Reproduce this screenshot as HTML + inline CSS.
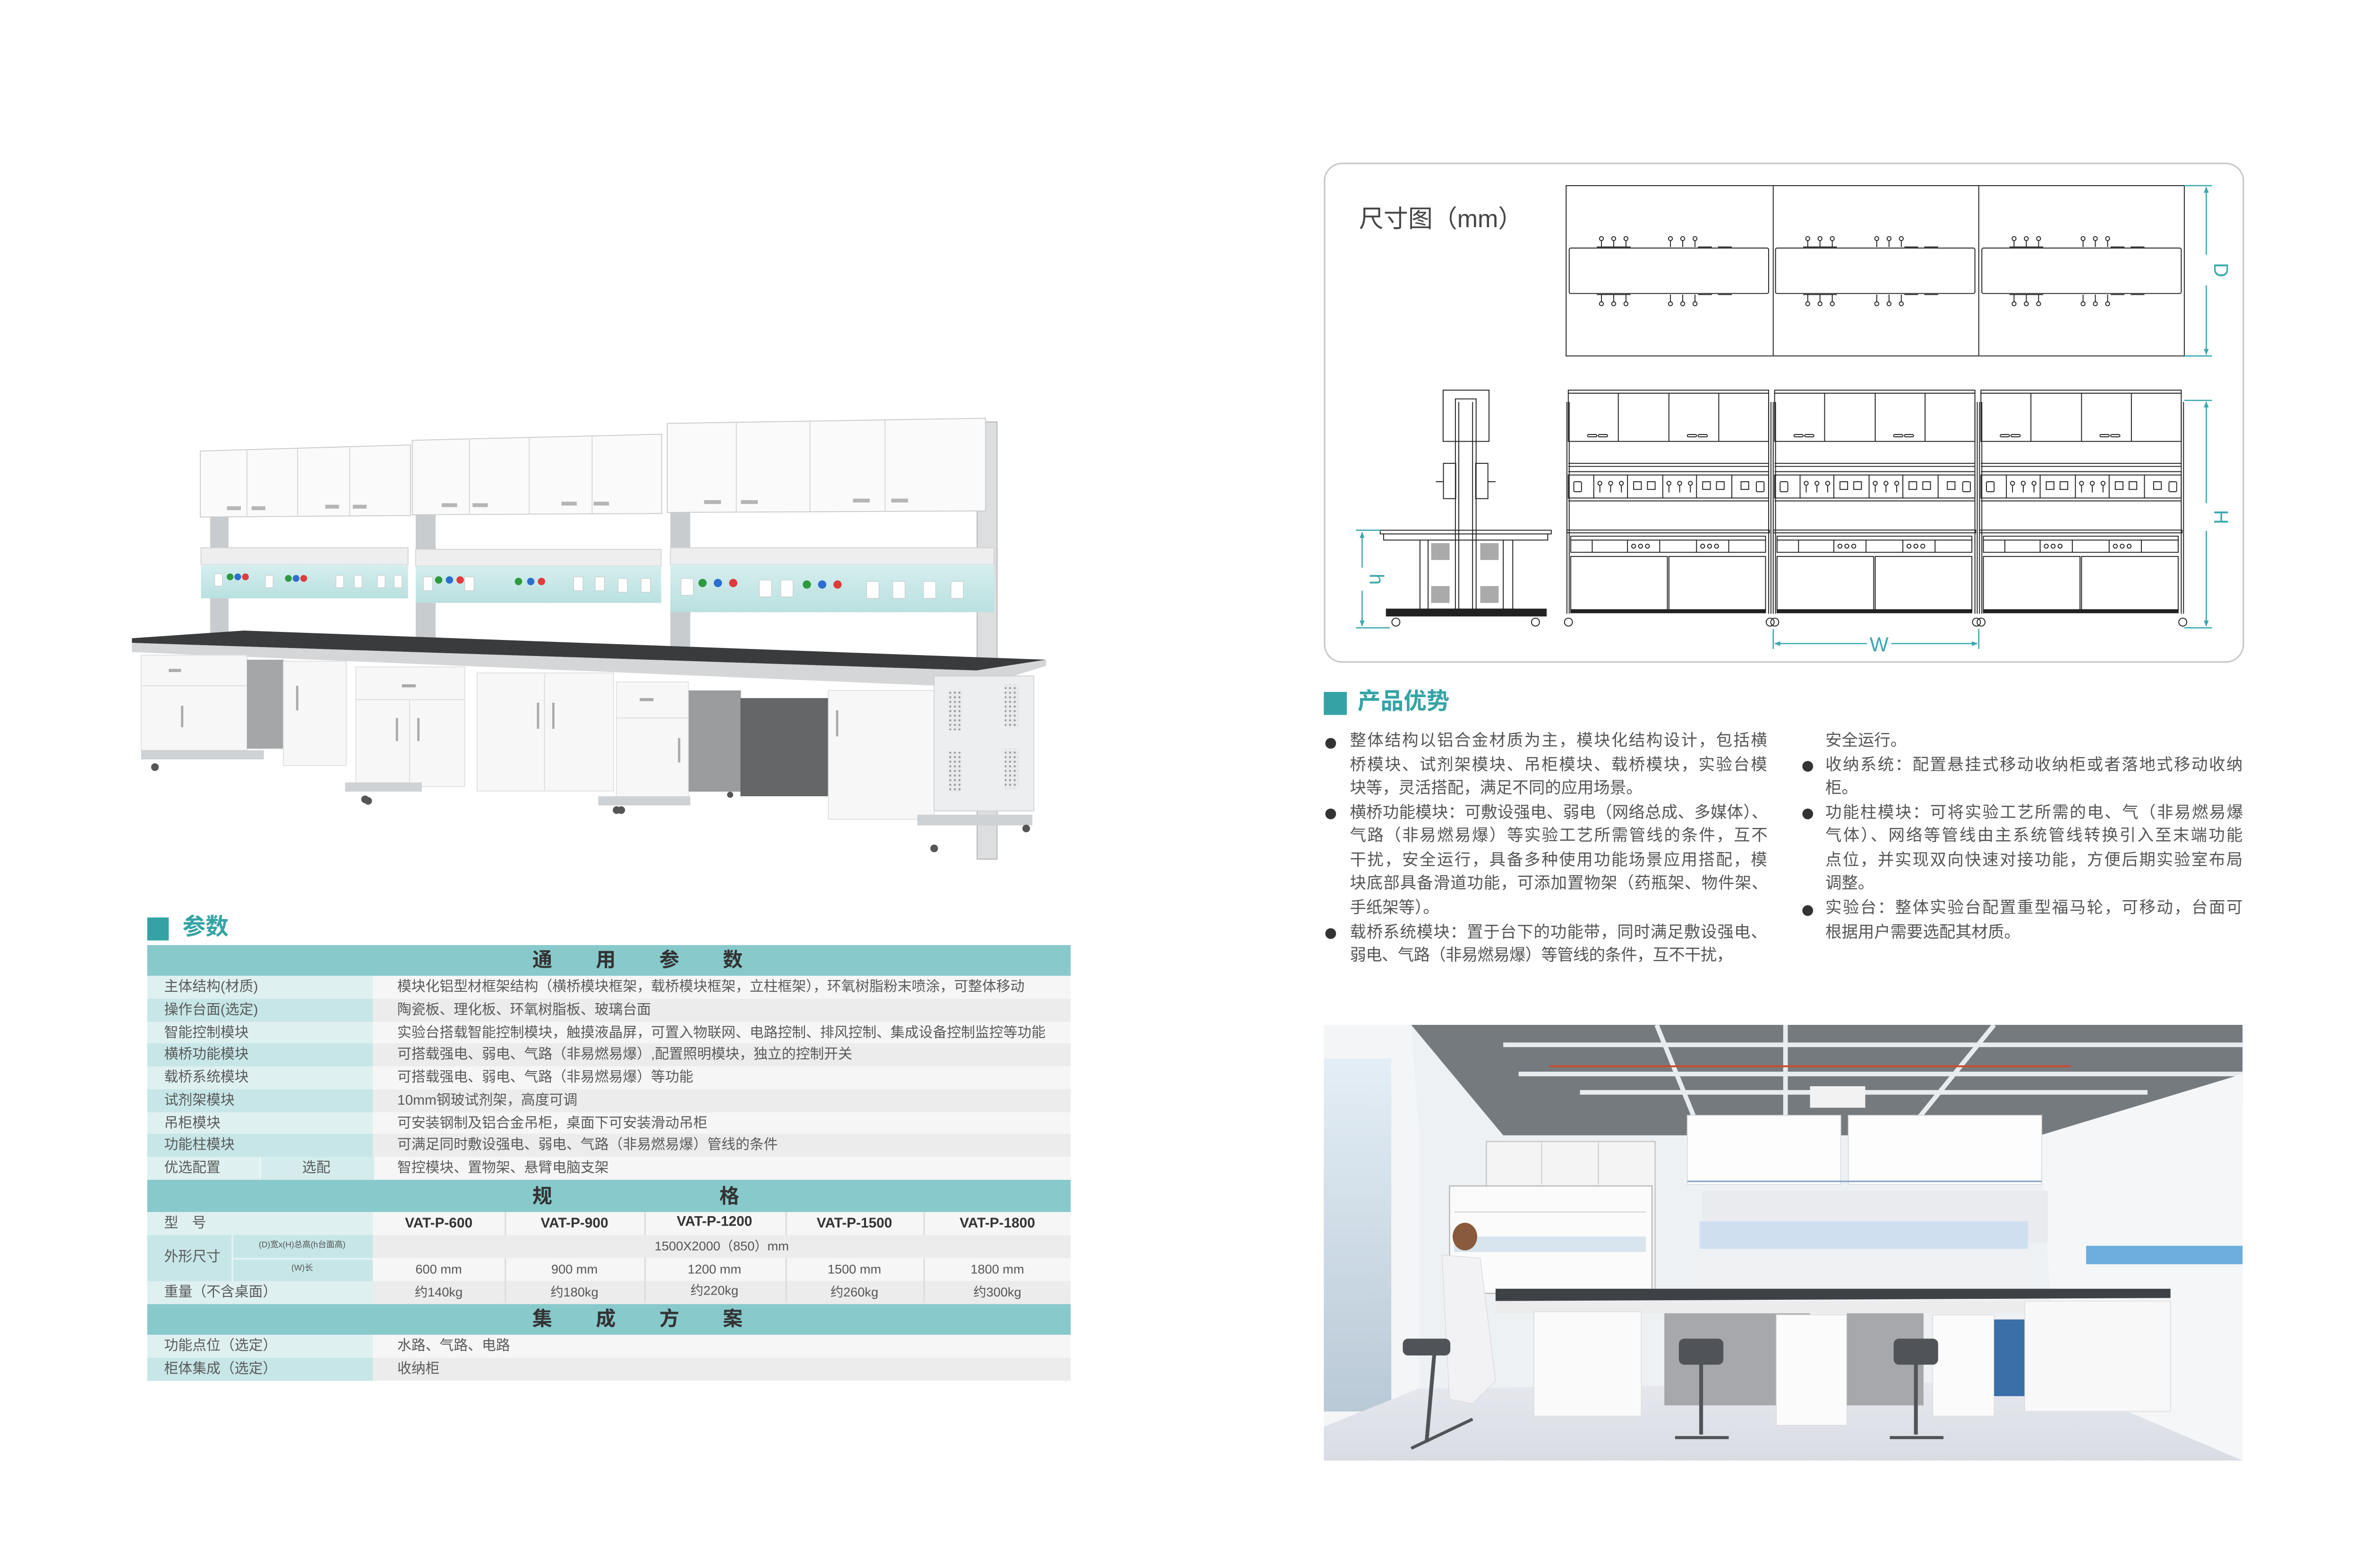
<!DOCTYPE html>
<html><head><meta charset="utf-8">
<style>
html,body{margin:0;padding:0;background:#fff;}
body{width:5033px;height:3320px;overflow:hidden;position:relative;}
#p{position:absolute;left:0;top:0;width:1550px;height:1022px;transform:scale(3.2471,3.2485);transform-origin:0 0;font-family:"Liberation Sans","Noto Sans CJK SC",sans-serif;}
.a{position:absolute;}
.t{position:absolute;font-size:9.2px;color:#5a5a5a;white-space:nowrap;line-height:14.75px;}
.hd{position:absolute;left:96px;width:602px;background:#88c9cc;}
.hdt{position:absolute;font-size:13px;font-weight:bold;color:#333;line-height:20px;}
.ln{position:absolute;font-size:10.6px;color:#555;white-space:nowrap;line-height:15.5px;width:272px;text-align:justify;text-align-last:justify;}
.ln.l{text-align-last:left;}
.bul{position:absolute;width:7px;height:7px;border-radius:50%;background:#333;}
.md{position:absolute;font-size:9.2px;font-weight:bold;color:#333;line-height:14.5px;text-align:center;}
.mv{position:absolute;font-size:8.4px;color:#555;line-height:14.75px;text-align:center;}
</style></head><body>
<div id="p">

<!-- ===== Lab bench render ===== -->
<svg class="a" style="left:0;top:0" width="700" height="580" viewBox="0 0 700 580">
 <defs>
  <linearGradient id="pan" x1="0" y1="0" x2="0" y2="1"><stop offset="0" stop-color="#d6eeee"/><stop offset="1" stop-color="#b9e0e0"/></linearGradient>
  <pattern id="perf" width="3" height="3" patternUnits="userSpaceOnUse"><rect width="3" height="3" fill="#e8eaec"/><circle cx="1.5" cy="1.5" r="0.7" fill="#9a9c9e"/></pattern>
 </defs>
 <!-- posts -->
 <rect x="137" y="335" width="12" height="83" fill="#c9cccf"/>
 <rect x="271" y="334" width="13" height="85" fill="#c9cccf"/>
 <rect x="437" y="333" width="13" height="93" fill="#c9cccf"/>
 <rect x="637" y="275" width="13" height="285" fill="#dcdee0" stroke="#aaa" stroke-width="0.5"/>
 <!-- upper cabinets -->
 <polygon points="130.6,294 267.6,290 267.6,336 130.6,337" fill="#fafafa" stroke="#ccc" stroke-width="0.6"/>
 <polygon points="268.8,287 431.4,283 431.4,334.7 268.8,335.5" fill="#fafafa" stroke="#ccc" stroke-width="0.6"/>
 <polygon points="435,276 642.5,272.6 642.5,333 435,334" fill="#fafafa" stroke="#ccc" stroke-width="0.6"/>
 <g stroke="#d6d6d6" stroke-width="0.6">
  <line x1="161" y1="293" x2="161" y2="336"/><line x1="194" y1="292" x2="194" y2="336"/><line x1="228" y1="291" x2="228" y2="336"/>
  <line x1="306" y1="286" x2="306" y2="335"/><line x1="345" y1="285" x2="345" y2="335"/><line x1="386" y1="284" x2="386" y2="335"/>
  <line x1="480" y1="275" x2="480" y2="334"/><line x1="528" y1="274" x2="528" y2="334"/><line x1="577" y1="273" x2="577" y2="333"/>
 </g>
 <g fill="#b5b5b5">
  <rect x="148" y="330" width="9" height="2.5"/><rect x="164" y="330" width="9" height="2.5"/><rect x="212" y="329" width="9" height="2.5"/><rect x="230" y="329" width="9" height="2.5"/>
  <rect x="288" y="328" width="10" height="2.5"/><rect x="308" y="328" width="10" height="2.5"/><rect x="366" y="327" width="10" height="2.5"/><rect x="387" y="327" width="10" height="2.5"/>
  <rect x="459" y="326" width="11" height="2.5"/><rect x="483" y="326" width="11" height="2.5"/><rect x="556" y="325" width="11" height="2.5"/><rect x="581" y="325" width="11" height="2.5"/>
 </g>
 <!-- rails + service panels -->
 <rect x="131" y="357" width="135" height="11" fill="#eeeeee" stroke="#cfcfcf" stroke-width="0.5"/>
 <rect x="271" y="358" width="160" height="11" fill="#eeeeee" stroke="#cfcfcf" stroke-width="0.5"/>
 <rect x="437" y="357" width="211" height="11" fill="#eeeeee" stroke="#cfcfcf" stroke-width="0.5"/>
 <rect x="131" y="368" width="135" height="22" fill="url(#pan)"/>
 <rect x="271" y="369" width="160" height="24" fill="url(#pan)"/>
 <rect x="437" y="368" width="211" height="31" fill="url(#pan)"/>
 <g fill="#fff" stroke="#ccc" stroke-width="0.4">
  <rect x="140" y="374" width="5" height="8"/><rect x="173" y="375" width="5" height="8"/><rect x="219" y="375" width="5" height="8"/><rect x="231" y="375" width="5" height="8"/><rect x="246" y="375" width="5" height="8"/><rect x="257" y="375" width="5" height="8"/>
  <rect x="276" y="376" width="6" height="9"/><rect x="303" y="376" width="6" height="9"/><rect x="374" y="376" width="6" height="9"/><rect x="388" y="376" width="6" height="9"/><rect x="403" y="377" width="6" height="9"/><rect x="418" y="377" width="6" height="9"/>
  <rect x="444" y="377" width="8" height="11"/><rect x="495" y="378" width="8" height="11"/><rect x="509" y="378" width="8" height="11"/><rect x="565" y="379" width="8" height="11"/><rect x="582" y="379" width="8" height="11"/><rect x="602" y="379" width="8" height="11"/><rect x="620" y="379" width="8" height="11"/>
 </g>
 <g>
  <circle cx="150" cy="376" r="2.2" fill="#2e9a3e"/><circle cx="155" cy="376" r="2.2" fill="#2c6fd0"/><circle cx="160" cy="376" r="2.2" fill="#e03b3b"/>
  <circle cx="188" cy="377" r="2.2" fill="#2e9a3e"/><circle cx="193" cy="377" r="2.2" fill="#2c6fd0"/><circle cx="198" cy="377" r="2.2" fill="#e03b3b"/>
  <circle cx="286" cy="378" r="2.4" fill="#2e9a3e"/><circle cx="293" cy="378" r="2.4" fill="#2c6fd0"/><circle cx="300" cy="378" r="2.4" fill="#e03b3b"/>
  <circle cx="338" cy="379" r="2.4" fill="#2e9a3e"/><circle cx="346" cy="379" r="2.4" fill="#2c6fd0"/><circle cx="353" cy="379" r="2.4" fill="#e03b3b"/>
  <circle cx="458" cy="380" r="2.7" fill="#2e9a3e"/><circle cx="468" cy="380" r="2.7" fill="#2c6fd0"/><circle cx="478" cy="380" r="2.7" fill="#e03b3b"/>
  <circle cx="526" cy="381" r="2.7" fill="#2e9a3e"/><circle cx="536" cy="381" r="2.7" fill="#2c6fd0"/><circle cx="546" cy="381" r="2.7" fill="#e03b3b"/>
 </g>
 <!-- worktop -->
 <polygon points="86,416 159,411 682,430 636.6,437 86,419" fill="#3a3b3d"/>
 <polygon points="86,419 636.6,437 682,430 682,434 636.6,448 86,425" fill="#d4d6d8"/>
 <!-- lower cabinets -->
 <rect x="92" y="427" width="69" height="62" fill="#f7f7f7" stroke="#ddd" stroke-width="0.5"/>
 <line x1="92" y1="447" x2="161" y2="447" stroke="#ddd" stroke-width="0.6"/>
 <rect x="161" y="430" width="24" height="58" fill="#a4a6a8"/>
 <rect x="184.7" y="431" width="41" height="68" fill="#f7f7f7" stroke="#ddd" stroke-width="0.5"/>
 <rect x="232" y="434.7" width="71" height="78" fill="#f7f7f7" stroke="#ddd" stroke-width="0.5"/>
 <line x1="232" y1="456" x2="303" y2="456" stroke="#ddd" stroke-width="0.6"/>
 <line x1="267" y1="456" x2="267" y2="513" stroke="#ddd" stroke-width="0.6"/>
 <rect x="311" y="438.6" width="89" height="77" fill="#f7f7f7" stroke="#ddd" stroke-width="0.5"/>
 <line x1="355" y1="439" x2="355" y2="515" stroke="#ddd" stroke-width="0.6"/>
 <rect x="401.8" y="444.5" width="47" height="76" fill="#f7f7f7" stroke="#ddd" stroke-width="0.5"/>
 <line x1="402" y1="468" x2="449" y2="468" stroke="#ddd" stroke-width="0.6"/>
 <rect x="449" y="450" width="34" height="66" fill="#9a9c9e"/>
 <rect x="482.7" y="455" width="57.3" height="64" fill="#646668"/>
 <rect x="540" y="450" width="69" height="84" fill="#f7f7f7" stroke="#ddd" stroke-width="0.5"/>
 <rect x="609" y="440.6" width="65" height="88" fill="#eceef0" stroke="#ccc" stroke-width="0.5"/>
 <g fill="#aaa">
  <rect x="110" y="436" width="8" height="2"/><rect x="118" y="460" width="1.5" height="14"/><rect x="193" y="447" width="1.5" height="16"/>
  <rect x="262" y="446" width="9" height="2"/><rect x="258" y="468" width="1.5" height="15"/><rect x="272" y="468" width="1.5" height="15"/>
  <rect x="350" y="458" width="1.5" height="17"/><rect x="360" y="458" width="1.5" height="17"/>
  <rect x="417" y="455" width="9" height="2"/><rect x="442" y="481" width="1.5" height="16"/><rect x="545" y="463" width="1.5" height="17"/>
 </g>
 <g fill="url(#perf)">
  <rect x="618" y="450" width="9" height="26"/><rect x="618" y="490" width="9" height="26"/><rect x="655" y="446" width="9" height="28"/><rect x="655" y="488" width="9" height="26"/>
 </g>
 <!-- base rails & wheels -->
 <g fill="#cfd2d4">
  <rect x="92" y="489" width="80" height="6"/><rect x="225" y="510" width="50" height="6"/><rect x="390" y="519" width="60" height="6"/><rect x="598" y="531" width="75" height="7"/>
 </g>
 <g fill="#555">
  <circle cx="101" cy="500" r="2.5"/><circle cx="238" cy="521" r="2.5"/><circle cx="240" cy="522" r="2.5"/><circle cx="402" cy="528" r="2.5"/><circle cx="405" cy="528" r="2.5"/><circle cx="476" cy="518" r="2"/><circle cx="609" cy="553" r="2.5"/><circle cx="669" cy="540" r="2.5"/>
 </g>
</svg>

<!-- ===== 参数 ===== -->
<div class="a" style="left:96px;top:598px;width:14px;height:15px;background:#35a3a6"></div>
<div class="a" style="left:119px;top:595px;font-size:15px;color:#35a3a6;font-weight:bold;line-height:20px">参数</div>

<div class="hd" style="top:616px;height:20px"></div>
<div class="hdt" style="left:347px;top:616px;letter-spacing:28.4px">通用参数</div>

<div class="a" style="left:96px;top:636px;width:147px;height:133px;background:#dff0f0"></div>
<div class="a" style="left:243px;top:636px;width:455px;height:133px;background:#f6f6f6"></div>
<div class="a" style="left:96px;top:650.75px;width:147px;height:14.75px;background:#c7e6e7"></div><div class="a" style="left:243px;top:650.75px;width:455px;height:14.75px;background:#ececec"></div>
<div class="a" style="left:96px;top:680.25px;width:147px;height:14.75px;background:#c7e6e7"></div><div class="a" style="left:243px;top:680.25px;width:455px;height:14.75px;background:#ececec"></div>
<div class="a" style="left:96px;top:709.75px;width:147px;height:14.75px;background:#c7e6e7"></div><div class="a" style="left:243px;top:709.75px;width:455px;height:14.75px;background:#ececec"></div>
<div class="a" style="left:96px;top:739.25px;width:147px;height:14.75px;background:#c7e6e7"></div><div class="a" style="left:243px;top:739.25px;width:455px;height:14.75px;background:#ececec"></div>
<div class="a" style="left:169px;top:754px;width:74px;height:15px;background:#d4ecec;border-left:1px solid #eef7f7"></div>

<div class="t" style="left:107px;top:636px">主体结构(材质)</div>
<div class="t" style="left:107px;top:650.75px">操作台面(选定)</div>
<div class="t" style="left:107px;top:665.5px">智能控制模块</div>
<div class="t" style="left:107px;top:680.25px">横桥功能模块</div>
<div class="t" style="left:107px;top:695px">载桥系统模块</div>
<div class="t" style="left:107px;top:709.75px">试剂架模块</div>
<div class="t" style="left:107px;top:724.5px">吊柜模块</div>
<div class="t" style="left:107px;top:739.25px">功能柱模块</div>
<div class="t" style="left:107px;top:754px">优选配置</div>
<div class="t" style="left:197px;top:754px">选配</div>

<div class="t" style="left:259px;top:636px">模块化铝型材框架结构（横桥模块框架，载桥模块框架，立柱框架），环氧树脂粉末喷涂，可整体移动</div>
<div class="t" style="left:259px;top:650.75px">陶瓷板、理化板、环氧树脂板、玻璃台面</div>
<div class="t" style="left:259px;top:665.5px">实验台搭载智能控制模块，触摸液晶屏，可置入物联网、电路控制、排风控制、集成设备控制监控等功能</div>
<div class="t" style="left:259px;top:680.25px">可搭载强电、弱电、气路（非易燃易爆）,配置照明模块，独立的控制开关</div>
<div class="t" style="left:259px;top:695px">可搭载强电、弱电、气路（非易燃易爆）等功能</div>
<div class="t" style="left:259px;top:709.75px">10mm钢玻试剂架，高度可调</div>
<div class="t" style="left:259px;top:724.5px">可安装钢制及铝合金吊柜，桌面下可安装滑动吊柜</div>
<div class="t" style="left:259px;top:739.25px">可满足同时敷设强电、弱电、气路（非易燃易爆）管线的条件</div>
<div class="t" style="left:259px;top:754px">智控模块、置物架、悬臂电脑支架</div>

<div class="hd" style="top:769px;height:21px"></div>
<div class="hdt" style="left:347px;top:769.5px">规</div>
<div class="hdt" style="left:469px;top:769.5px">格</div>

<div class="a" style="left:96px;top:790px;width:147px;height:14.5px;background:#dff0f0"></div>
<div class="a" style="left:243px;top:790px;width:455px;height:14.5px;background:#f6f6f6"></div>
<div class="a" style="left:96px;top:804.5px;width:147px;height:30.5px;background:#c7e6e7"></div>
<div class="a" style="left:150.5px;top:804.5px;width:1px;height:30.5px;background:#e6f4f4"></div>
<div class="a" style="left:151px;top:819.8px;width:92px;height:1px;background:#e6f4f4"></div>
<div class="a" style="left:243px;top:804.5px;width:455px;height:15.3px;background:#ececec"></div>
<div class="a" style="left:243px;top:819.8px;width:455px;height:15.2px;background:#f6f6f6"></div>
<div class="a" style="left:96px;top:835px;width:147px;height:14.5px;background:#dff0f0"></div>
<div class="a" style="left:243px;top:835px;width:455px;height:14.5px;background:#ececec"></div>
<div class="a" style="left:329px;top:790px;width:1px;height:14.5px;background:#ddd"></div>
<div class="a" style="left:420px;top:790px;width:1px;height:14.5px;background:#ddd"></div>
<div class="a" style="left:511.5px;top:790px;width:1px;height:14.5px;background:#ddd"></div>
<div class="a" style="left:602.4px;top:790px;width:1px;height:14.5px;background:#ddd"></div>
<div class="a" style="left:329px;top:819.8px;width:1px;height:29.7px;background:#ddd"></div>
<div class="a" style="left:420px;top:819.8px;width:1px;height:29.7px;background:#ddd"></div>
<div class="a" style="left:511.5px;top:819.8px;width:1px;height:29.7px;background:#ddd"></div>
<div class="a" style="left:602.4px;top:819.8px;width:1px;height:29.7px;background:#ddd"></div>

<div class="t" style="left:107px;top:790px;letter-spacing:9px">型号</div>
<div class="t" style="left:107px;top:812px">外形尺寸</div>
<div class="a" style="left:151px;top:804.5px;width:92px;text-align:center;font-size:5.4px;color:#555;line-height:15px">(D)宽x(H)总高(h台面高)</div>
<div class="a" style="left:151px;top:820px;width:92px;text-align:center;font-size:5.4px;color:#555;line-height:15px">(W)长</div>
<div class="t" style="left:107px;top:835px">重量（不含桌面）</div>

<div class="md" style="left:243px;top:790px;width:86px">VAT-P-600</div>
<div class="md" style="left:329px;top:790px;width:91px">VAT-P-900</div>
<div class="md" style="left:420px;top:789px;width:91.5px">VAT-P-1200</div>
<div class="md" style="left:511.5px;top:790px;width:91px">VAT-P-1500</div>
<div class="md" style="left:602.4px;top:790px;width:95.6px">VAT-P-1800</div>
<div class="mv" style="left:243px;top:804.5px;width:455px">1500X2000（850）mm</div>
<div class="mv" style="left:243px;top:820px;width:86px">600 mm</div>
<div class="mv" style="left:329px;top:820px;width:91px">900 mm</div>
<div class="mv" style="left:420px;top:820px;width:91.5px">1200 mm</div>
<div class="mv" style="left:511.5px;top:820px;width:91px">1500 mm</div>
<div class="mv" style="left:602.4px;top:820px;width:95.6px">1800 mm</div>
<div class="mv" style="left:243px;top:835px;width:86px">约140kg</div>
<div class="mv" style="left:329px;top:835px;width:91px">约180kg</div>
<div class="mv" style="left:420px;top:834px;width:91.5px">约220kg</div>
<div class="mv" style="left:511.5px;top:835px;width:91px">约260kg</div>
<div class="mv" style="left:602.4px;top:835px;width:95.6px">约300kg</div>

<div class="hd" style="top:849.5px;height:20.5px"></div>
<div class="hdt" style="left:347px;top:850px;letter-spacing:28.4px">集成方案</div>
<div class="a" style="left:96px;top:870px;width:147px;height:15px;background:#dff0f0"></div>
<div class="a" style="left:243px;top:870px;width:455px;height:15px;background:#f6f6f6"></div>
<div class="a" style="left:96px;top:885px;width:147px;height:15px;background:#c7e6e7"></div>
<div class="a" style="left:243px;top:885px;width:455px;height:15px;background:#ececec"></div>
<div class="t" style="left:107px;top:870px">功能点位（选定）</div>
<div class="t" style="left:107px;top:885px">柜体集成（选定）</div>
<div class="t" style="left:259px;top:870px">水路、气路、电路</div>
<div class="t" style="left:259px;top:885px">收纳柜</div>

<!-- ===== Dimension drawing ===== -->
<div class="a" style="left:863px;top:106px;width:598px;height:324px;border:1px solid #c8c8c8;border-radius:12px"></div>
<div class="a" style="left:886px;top:134px;font-size:16px;color:#444;line-height:20px">尺寸图（mm）</div>
<svg class="a" style="left:0;top:0" width="1550" height="440" viewBox="0 0 1550 440">
 <defs>
  <marker id="ar" viewBox="0 0 10 10" refX="9" refY="5" markerWidth="5" markerHeight="5" orient="auto-start-reverse"><path d="M0,1 L10,5 L0,9 z" fill="#3aa8b0"/></marker>
 </defs>
 <g fill="none" stroke="#222" stroke-width="0.6">
  <rect x="1021" y="121" width="403" height="111"/>
  <line x1="1156" y1="121" x2="1156" y2="232"/><line x1="1290" y1="121" x2="1290" y2="232"/>
  <rect x="1023" y="161.7" width="130" height="29.6" rx="1"/>
  <rect x="1157.5" y="161.7" width="130" height="29.6" rx="1"/>
  <rect x="1292" y="161.7" width="130" height="29.6" rx="1"/>
 </g>
 <g id="fit" stroke="#222" stroke-width="0.6" fill="none">
  <circle cx="1044" cy="155.5" r="1.3"/><circle cx="1052" cy="155.5" r="1.3"/><circle cx="1060" cy="155.5" r="1.3"/>
  <circle cx="1089" cy="155.5" r="1.3"/><circle cx="1097" cy="155.5" r="1.3"/><circle cx="1105" cy="155.5" r="1.3"/>
  <line x1="1044" y1="157" x2="1044" y2="161"/><line x1="1052" y1="157" x2="1052" y2="161"/><line x1="1060" y1="157" x2="1060" y2="161"/>
  <line x1="1089" y1="157" x2="1089" y2="161"/><line x1="1097" y1="157" x2="1097" y2="161"/><line x1="1105" y1="157" x2="1105" y2="161"/>
  <line x1="1041" y1="161" x2="1063" y2="161"/><line x1="1107" y1="161" x2="1116" y2="161"/><line x1="1120" y1="161" x2="1129" y2="161"/>
  <circle cx="1044" cy="198" r="1.3"/><circle cx="1052" cy="198" r="1.3"/><circle cx="1060" cy="198" r="1.3"/>
  <circle cx="1089" cy="198" r="1.3"/><circle cx="1097" cy="198" r="1.3"/><circle cx="1105" cy="198" r="1.3"/>
  <line x1="1044" y1="192" x2="1044" y2="196.5"/><line x1="1052" y1="192" x2="1052" y2="196.5"/><line x1="1060" y1="192" x2="1060" y2="196.5"/>
  <line x1="1089" y1="192" x2="1089" y2="196.5"/><line x1="1097" y1="192" x2="1097" y2="196.5"/><line x1="1105" y1="192" x2="1105" y2="196.5"/>
  <line x1="1041" y1="192" x2="1063" y2="192"/><line x1="1107" y1="192" x2="1116" y2="192"/><line x1="1120" y1="192" x2="1129" y2="192"/>
 </g>
 <use href="#fit" x="134.5"/>
 <use href="#fit" x="269"/>

 <g id="mod" fill="none" stroke="#222" stroke-width="0.6">
  <rect x="1022.4" y="254.3" width="130.6" height="2"/>
  <rect x="1022.4" y="256.3" width="130.6" height="31.4"/>
  <line x1="1055" y1="256.3" x2="1055" y2="287.7"/><line x1="1088" y1="256.3" x2="1088" y2="287.7"/><line x1="1120.5" y1="256.3" x2="1120.5" y2="287.7"/>
  <rect x="1035" y="283.2" width="6" height="1.5" rx="0.7"/><rect x="1042" y="283.2" width="6" height="1.5" rx="0.7"/>
  <rect x="1100" y="283.2" width="6" height="1.5" rx="0.7"/><rect x="1107" y="283.2" width="6" height="1.5" rx="0.7"/>
  <line x1="1022.4" y1="302" x2="1153" y2="302"/><line x1="1022.4" y1="304" x2="1153" y2="304"/><line x1="1022.4" y1="307.4" x2="1153" y2="307.4"/>
  <rect x="1022.4" y="309.6" width="130.6" height="15"/>
  <line x1="1022.4" y1="326.5" x2="1153" y2="326.5"/>
  <line x1="1039" y1="309.6" x2="1039" y2="324.6"/><line x1="1061" y1="309.6" x2="1061" y2="324.6"/><line x1="1084" y1="309.6" x2="1084" y2="324.6"/><line x1="1106" y1="309.6" x2="1106" y2="324.6"/><line x1="1129" y1="309.6" x2="1129" y2="324.6"/>
  <rect x="1026" y="314" width="5" height="6.5" rx="0.7"/><rect x="1145" y="314" width="5" height="6.5" rx="0.7"/>
  <rect x="1065" y="314" width="5" height="5"/><rect x="1074" y="314" width="5" height="5"/><rect x="1110" y="314" width="5" height="5"/><rect x="1119" y="314" width="5" height="5"/><rect x="1135" y="314" width="5" height="5"/>
  <circle cx="1043" cy="315" r="1.3"/><circle cx="1050" cy="315" r="1.3"/><circle cx="1057" cy="315" r="1.3"/>
  <circle cx="1088" cy="315" r="1.3"/><circle cx="1095" cy="315" r="1.3"/><circle cx="1102" cy="315" r="1.3"/>
  <line x1="1043" y1="316.5" x2="1043" y2="321"/><line x1="1050" y1="316.5" x2="1050" y2="321"/><line x1="1057" y1="316.5" x2="1057" y2="321"/>
  <line x1="1088" y1="316.5" x2="1088" y2="321"/><line x1="1095" y1="316.5" x2="1095" y2="321"/><line x1="1102" y1="316.5" x2="1102" y2="321"/>
  <rect x="1021.5" y="345.5" width="132" height="1.8"/>
  <rect x="1024" y="349.5" width="127" height="2.5"/>
  <rect x="1024" y="352" width="127" height="8"/>
  <line x1="1038" y1="352" x2="1038" y2="360"/><line x1="1061" y1="352" x2="1061" y2="360"/><line x1="1082" y1="352" x2="1082" y2="360"/><line x1="1106" y1="352" x2="1106" y2="360"/><line x1="1127" y1="352" x2="1127" y2="360"/>
  <circle cx="1065" cy="356" r="1.3"/><circle cx="1069.5" cy="356" r="1.3"/><circle cx="1074" cy="356" r="1.3"/>
  <circle cx="1110" cy="356" r="1.3"/><circle cx="1114.5" cy="356" r="1.3"/><circle cx="1119" cy="356" r="1.3"/>
  <rect x="1024" y="362.7" width="63" height="34.7"/><rect x="1088" y="362.7" width="63" height="34.7"/>
  <rect x="1024" y="397.4" width="127" height="2" fill="#222"/>
  <line x1="1021.5" y1="262" x2="1021.5" y2="400"/><line x1="1023" y1="262" x2="1023" y2="400"/>
  <line x1="1153" y1="262" x2="1153" y2="400"/><line x1="1154.5" y1="262" x2="1154.5" y2="400"/>
  <circle cx="1022.5" cy="405.5" r="2.6"/><circle cx="1154" cy="405.5" r="2.6"/>
 </g>
 <use href="#mod" x="134.5"/>
 <use href="#mod" x="269"/>

 <g fill="none" stroke="#222" stroke-width="0.6">
  <rect x="940.8" y="254.3" width="29.9" height="33.4"/>
  <rect x="948.8" y="260" width="13.5" height="140"/>
  <line x1="951" y1="262" x2="951" y2="400"/><line x1="960" y1="262" x2="960" y2="400"/>
  <rect x="941" y="302" width="8" height="23"/><rect x="962" y="302" width="8" height="23"/>
  <line x1="936" y1="314" x2="941" y2="314"/><line x1="970" y1="314" x2="975" y2="314"/>
  <rect x="899.8" y="345.6" width="111.5" height="2.4"/>
  <rect x="902" y="348" width="107" height="4"/>
  <rect x="925.7" y="352" width="60.5" height="45"/>
  <line x1="931" y1="352" x2="931" y2="397"/><line x1="980" y1="352" x2="980" y2="397"/>
  <rect x="903.8" y="397" width="104.2" height="4.5" fill="#222"/>
  <circle cx="910" cy="405.5" r="2.6"/><circle cx="1001" cy="405.5" r="2.6"/>
 </g>
 <g fill="#555">
  <rect x="933" y="354" width="12" height="11" opacity="0.5"/><rect x="965" y="354" width="12" height="11" opacity="0.5"/>
  <rect x="933" y="382" width="12" height="11" opacity="0.5"/><rect x="965" y="382" width="12" height="11" opacity="0.5"/>
 </g>

 <g stroke="#3aa8b0" stroke-width="0.8" fill="none">
  <line x1="1424" y1="121" x2="1442" y2="121"/><line x1="1424" y1="232" x2="1442" y2="232"/>
  <line x1="1438.3" y1="122" x2="1438.3" y2="166" marker-start="url(#ar)"/><line x1="1438.3" y1="186" x2="1438.3" y2="231" marker-end="url(#ar)"/>
  <line x1="1424" y1="261" x2="1442" y2="261"/><line x1="1424" y1="409.2" x2="1442" y2="409.2"/>
  <line x1="1438.3" y1="262" x2="1438.3" y2="328" marker-start="url(#ar)"/><line x1="1438.3" y1="346" x2="1438.3" y2="408" marker-end="url(#ar)"/>
  <line x1="884" y1="345.6" x2="900" y2="345.6"/><line x1="884" y1="409.2" x2="906" y2="409.2"/>
  <line x1="888" y1="347" x2="888" y2="370" marker-start="url(#ar)"/><line x1="888" y1="385" x2="888" y2="408" marker-end="url(#ar)"/>
  <line x1="1156" y1="410" x2="1156" y2="423"/><line x1="1290" y1="410" x2="1290" y2="423"/>
  <line x1="1157" y1="419.5" x2="1217" y2="419.5" marker-start="url(#ar)"/><line x1="1233" y1="419.5" x2="1289" y2="419.5" marker-end="url(#ar)"/>
 </g>
 <g fill="#3aa8b0" font-family="Liberation Sans, sans-serif" font-size="13">
  <text x="1225" y="424.5" text-anchor="middle">W</text>
  <text transform="translate(1443.5,176) rotate(90)" text-anchor="middle">D</text>
  <text transform="translate(1443.5,337) rotate(90)" text-anchor="middle">H</text>
  <text transform="translate(893,377.5) rotate(90)" text-anchor="middle">h</text>
 </g>
</svg>

<!-- ===== 产品优势 ===== -->
<div class="a" style="left:863px;top:451px;width:15px;height:15px;background:#35a3a6"></div>
<div class="a" style="left:885px;top:448px;font-size:15px;color:#35a3a6;font-weight:bold;line-height:20px">产品优势</div>

<div class="bul" style="left:864px;top:480.5px"></div>
<div class="ln" style="left:880px;top:476px">整体结构以铝合金材质为主，模块化结构设计，包括横</div>
<div class="ln" style="left:880px;top:491.5px">桥模块、试剂架模块、吊柜模块、载桥模块，实验台模</div>
<div class="ln l" style="left:880px;top:507px">块等，灵活搭配，满足不同的应用场景。</div>
<div class="bul" style="left:864px;top:527px"></div>
<div class="ln" style="left:880px;top:522.5px;letter-spacing:-0.5px">横桥功能模块：可敷设强电、弱电（网络总成、多媒体）、</div>
<div class="ln" style="left:880px;top:538px;letter-spacing:-0.3px">气路（非易燃易爆）等实验工艺所需管线的条件，互不</div>
<div class="ln" style="left:880px;top:553.5px">干扰，安全运行，具备多种使用功能场景应用搭配，模</div>
<div class="ln" style="left:880px;top:569px;letter-spacing:-0.5px">块底部具备滑道功能，可添加置物架（药瓶架、物件架、</div>
<div class="ln l" style="left:880px;top:584.5px">手纸架等）。</div>
<div class="bul" style="left:864px;top:605px"></div>
<div class="ln" style="left:880px;top:600.5px">载桥系统模块：置于台下的功能带，同时满足敷设强电、</div>
<div class="ln l" style="left:880px;top:616px;letter-spacing:-0.2px">弱电、气路（非易燃易爆）等管线的条件，互不干扰，</div>

<div class="ln l" style="left:1190px;top:476px">安全运行。</div>
<div class="bul" style="left:1175px;top:496px"></div>
<div class="ln" style="left:1190px;top:491.5px">收纳系统：配置悬挂式移动收纳柜或者落地式移动收纳</div>
<div class="ln l" style="left:1190px;top:507px">柜。</div>
<div class="bul" style="left:1175px;top:527px"></div>
<div class="ln" style="left:1190px;top:522.5px;letter-spacing:-0.3px">功能柱模块：可将实验工艺所需的电、气（非易燃易爆</div>
<div class="ln" style="left:1190px;top:538px">气体）、网络等管线由主系统管线转换引入至末端功能</div>
<div class="ln" style="left:1190px;top:553.5px">点位，并实现双向快速对接功能，方便后期实验室布局</div>
<div class="ln l" style="left:1190px;top:569px">调整。</div>
<div class="bul" style="left:1175px;top:589.5px"></div>
<div class="ln" style="left:1190px;top:585px">实验台：整体实验台配置重型福马轮，可移动，台面可</div>
<div class="ln l" style="left:1190px;top:600.5px">根据用户需要选配其材质。</div>

<!-- ===== Lab photo ===== -->
<svg class="a" style="left:863px;top:668px" width="599" height="284" viewBox="863 668 599 284">
 <defs>
  <linearGradient id="win" x1="0" y1="0" x2="0" y2="1"><stop offset="0" stop-color="#e4eef6"/><stop offset="1" stop-color="#b9c9d6"/></linearGradient>
  <linearGradient id="flr" x1="0" y1="0" x2="0" y2="1"><stop offset="0" stop-color="#e6e8ee"/><stop offset="1" stop-color="#d9dce4"/></linearGradient>
 </defs>
 <rect x="863" y="668" width="599" height="284" fill="#eef1f4"/>
 <polygon points="920,668 1462,668 1462,720 1330,740 980,740" fill="#757a7e"/>
 <g stroke="#e9ecef" stroke-width="3">
  <line x1="980" y1="681" x2="1462" y2="681"/><line x1="990" y1="700" x2="1462" y2="700"/><line x1="1030" y1="712" x2="1400" y2="712"/>
  <line x1="1164" y1="668" x2="1164" y2="742"/><line x1="1080" y1="668" x2="1110" y2="742"/><line x1="1300" y1="668" x2="1240" y2="742"/>
 </g>
 <rect x="1180" y="708" width="36" height="14" fill="#f2f2f2"/>
 <line x1="1010" y1="695" x2="1350" y2="695" stroke="#c94a2a" stroke-width="1.2"/>
 <polygon points="863,668 920,668 925,740 925,905 863,930" fill="#f3f5f7"/>
 <rect x="863" y="690" width="44" height="230" fill="url(#win)"/>
 <polygon points="1330,740 1462,700 1462,952 1340,900" fill="#f4f6f8"/>
 <rect x="1360" y="812" width="102" height="12" fill="#4a9bd6" opacity="0.8"/>
 <polygon points="863,930 925,905 1340,900 1462,952 863,952" fill="url(#flr)"/>
 <!-- fume hood -->
 <rect x="969" y="744" width="110" height="98" fill="#f4f4f4" stroke="#c8c8c8" stroke-width="0.8"/>
 <line x1="1005" y1="744" x2="1005" y2="772" stroke="#ccc" stroke-width="0.6"/>
 <line x1="1042" y1="744" x2="1042" y2="772" stroke="#ccc" stroke-width="0.6"/>
 <rect x="945" y="773" width="132" height="70" fill="#fbfbfb" stroke="#bbb" stroke-width="0.8"/>
 <rect x="948" y="806" width="125" height="10" fill="#d8e4ee"/>
 <line x1="948" y1="790" x2="1073" y2="790" stroke="#ccc" stroke-width="0.6"/>
 <!-- upper cabinets -->
 <rect x="1100" y="727" width="100" height="45" fill="#fdfdfd" stroke="#ddd" stroke-width="0.6"/>
 <rect x="1205" y="727" width="126" height="45" fill="#fdfdfd" stroke="#ddd" stroke-width="0.6"/>
 <line x1="1100" y1="770" x2="1331" y2="770" stroke="#8aa8c8" stroke-width="1"/>
 <rect x="1110" y="776" width="225" height="34" fill="#e9ebee"/>
 <rect x="1108" y="796" width="214" height="18" fill="#cfdff0"/>
 <rect x="1108" y="818" width="214" height="22" fill="#eef0f2"/>
 <polygon points="975,840 1415,840 1415,846 975,848" fill="#3e4145"/>
 <rect x="975" y="848" width="440" height="8" fill="#ececec"/>
 <rect x="1000" y="855" width="70" height="68" fill="#fafafa" stroke="#ddd" stroke-width="0.5"/>
 <rect x="1085" y="856" width="95" height="60" fill="#a6a8ab"/>
 <rect x="1158" y="857" width="46" height="72" fill="#fbfbfb" stroke="#ddd" stroke-width="0.5"/>
 <rect x="1204" y="856" width="50" height="60" fill="#a6a8ab"/>
 <rect x="1260" y="857" width="40" height="66" fill="#fbfbfb" stroke="#ddd" stroke-width="0.5"/>
 <rect x="1300" y="860" width="20" height="50" fill="#3a6fa8"/>
 <rect x="1320" y="848" width="95" height="72" fill="#f8f8f8" stroke="#ddd" stroke-width="0.5"/>
 <ellipse cx="955" cy="806" rx="8" ry="9" fill="#8a5a3c"/>
 <path d="M940,818 L965,820 L975,900 L960,915 L945,912 Z" fill="#f2f2f4" stroke="#ddd" stroke-width="0.5"/>
 <g fill="#505357" stroke="#505357">
  <rect x="915" y="873" width="30" height="10" rx="3"/><line x1="935" y1="883" x2="930" y2="940" stroke-width="2.5"/><line x1="920" y1="944" x2="960" y2="925" stroke-width="2"/>
  <rect x="1095" y="873" width="28" height="16" rx="3"/><line x1="1109" y1="889" x2="1109" y2="935" stroke-width="2.5"/><line x1="1092" y1="937" x2="1127" y2="937" stroke-width="2"/>
  <rect x="1235" y="873" width="28" height="16" rx="3"/><line x1="1249" y1="889" x2="1249" y2="935" stroke-width="2.5"/><line x1="1232" y1="937" x2="1267" y2="937" stroke-width="2"/>
 </g>
</svg>

</div>
</body></html>
